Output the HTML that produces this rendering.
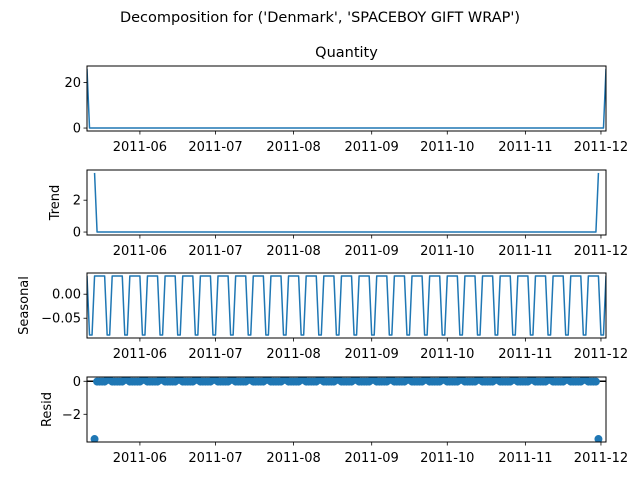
<!DOCTYPE html>
<html><head><meta charset="utf-8"><style>
html,body{margin:0;padding:0;background:#fff;}
svg{display:block;font-family:"DejaVu Sans","Liberation Sans",sans-serif;}
</style></head><body>
<svg id="chart" width="640" height="480" viewBox="0 0 640 480" xmlns="http://www.w3.org/2000/svg">
<text x="320" y="22" font-size="14.5" text-anchor="middle">Decomposition for ('Denmark', 'SPACEBOY GIFT WRAP')</text>
</svg>
<script>
// ---- data ----
const startDate = "2011-05-11";
const dayCount = 207;
const xTickLabels = ["2011-06","2011-07","2011-08","2011-09","2011-10","2011-11","2011-12"];
const xTickDates = ["2011-06-01","2011-07-01","2011-08-01","2011-09-01","2011-10-01","2011-11-01","2011-12-01"];
// observed: spikes at first and last day, zero otherwise
const observedSpikes = [[0,26],[206,26]];
const observedBase = 0;
// trend: NaN edges, spikes at index 3 and 203
const trendValid = [3,203];
const trendSpikes = [[3,3.71],[203,3.71]];
const trendBase = 0;
// seasonal weekly pattern (period 7), starting at index 0
const seasonalPattern = [0.038,-0.085,-0.085,0.038,0.038,0.038,0.038];
// resid: valid range, spikes
const residValid = [3,203];
const residSpikes = [[3,-3.5],[203,-3.5]];
const residBase = -0.02;
const obsTicks = [0,20];
const trendTicks = [0,2];
const seasTicks = [0.00,-0.05];
const seasTickLabels = ["0.00","\u22120.05"];
const residTicks = [0,-2];
const residTickLabels = ["0","\u22122"];

// ---- build series (from arrays above) ----
function series(n, base, spikes, valid){
  const a=[];
  for(let i=0;i<n;i++){
    if(valid && (i<valid[0]||i>valid[1])) a.push(null); else a.push(base);
  }
  spikes.forEach(s=>{a[s[0]]=s[1];});
  return a;
}
const observed = series(dayCount, observedBase, observedSpikes, null);
const trend = series(dayCount, trendBase, trendSpikes, trendValid);
const seasonal = []; for(let i=0;i<dayCount;i++) seasonal.push(seasonalPattern[i%7]);
const resid = series(dayCount, residBase, residSpikes, residValid);
for(let i=residValid[0];i<=residValid[1];i++){ if(resid[i]===residBase && seasonalPattern[i%7]<0) resid[i]=0.08; }

const NS="http://www.w3.org/2000/svg";
const svg=document.getElementById('chart');
const L=87,R=606;
const t0=Date.parse(startDate+"T00:00:00Z");
const DAY=86400000;
const xScale=(d)=>L+(d)/(dayCount-1)*(R-L);
const xDate=(s)=>xScale((Date.parse(s+"T00:00:00Z")-t0)/DAY);
function el(tag,attrs,parent){const e=document.createElementNS(NS,tag);for(const k in attrs)e.setAttribute(k,attrs[k]);(parent||svg).appendChild(e);return e;}

const panels=[
 {name:'observed',data:observed,top:66,bot:131,ticks:obsTicks,labels:obsTicks.map(String),title:'Quantity',ylabel:null,type:'line'},
 {name:'trend',data:trend,top:170,bot:235,ticks:trendTicks,labels:trendTicks.map(String),ylabel:'Trend',ylx:59,type:'line'},
 {name:'seasonal',data:seasonal,top:273,bot:338,ticks:seasTicks,labels:seasTickLabels,ylabel:'Seasonal',ylx:28,type:'line'},
 {name:'resid',data:resid,top:377,bot:442,ticks:residTicks,labels:residTickLabels,ylabel:'Resid',ylx:51,type:'scatter'}
];
panels.forEach(p=>{
  const vals=p.data.filter(v=>v!==null);
  let mn=Math.min(...vals),mx=Math.max(...vals);
  const m=(mx-mn)*0.05; mn-=m; mx+=m;
  const y=(v)=>p.bot-(v-mn)/(mx-mn)*(p.bot-p.top);
  const g=el('g',{});
  
  
  const clipId='clip-'+p.name;
  const cp=el('clipPath',{id:clipId},g);
  el('rect',{x:L,y:p.top,width:R-L,height:p.bot-p.top},cp);
  const mg=el('g',{'clip-path':'url(#'+clipId+')'},g);
  if(p.type==='line'){
    let d='',pen=false;
    p.data.forEach((v,i)=>{ if(v===null){pen=false;return;} d+=(pen?'L':'M')+xScale(i).toFixed(2)+' '+y(v).toFixed(2); pen=true;});
    const path=el('path',{d:d,fill:'none',stroke:'#1f77b4','stroke-width':1.5,'stroke-linejoin':'round'},mg);
    
    
  } else {
    const zl=el('line',{x1:L,x2:R,y1:y(0),y2:y(0),stroke:'#000','stroke-width':1.5},mg);
    
    
    p.data.forEach((v,i)=>{ if(v===null)return;
      const c=el('circle',{cx:xScale(i),cy:y(v),r:4,fill:'#1f77b4'},mg);
      
      
    });
  }
  const frame=el('rect',{x:L,y:p.top,width:R-L,height:p.bot-p.top,fill:'none',stroke:'#000','stroke-width':1},g);
  
  
  p.ticks.forEach((t,k)=>{
    const yy=y(t);
    el('line',{x1:L-3.5,x2:L,y1:yy,y2:yy,stroke:'#000','stroke-width':0.8},g);
    const tx=el('text',{x:L-6,y:yy+4.5,'font-size':13,'text-anchor':'end'},g);
    tx.textContent=p.labels[k];
    
    
  });
  xTickDates.forEach((s,k)=>{
    const xx=xDate(s);
    el('line',{x1:xx,x2:xx,y1:p.bot,y2:p.bot+3.5,stroke:'#000','stroke-width':0.8},g);
    const tx=el('text',{x:xx,y:p.bot+20,'font-size':13,'text-anchor':'middle'},g);
    tx.textContent=xTickLabels[k];
    
    
  });
  if(p.title){
    const tt=el('text',{x:(L+R)/2,y:p.top-9,'font-size':14.5,'text-anchor':'middle'},g);
    tt.textContent=p.title;
    
    
  }
  if(p.ylabel){
    const cy=(p.top+p.bot)/2;
    const yl=el('text',{x:p.ylx,y:cy,'font-size':13,'text-anchor':'middle',transform:'rotate(-90 '+p.ylx+' '+cy+')'},g);
    yl.textContent=p.ylabel;
    
    
  }
});
</script>
</body></html>
